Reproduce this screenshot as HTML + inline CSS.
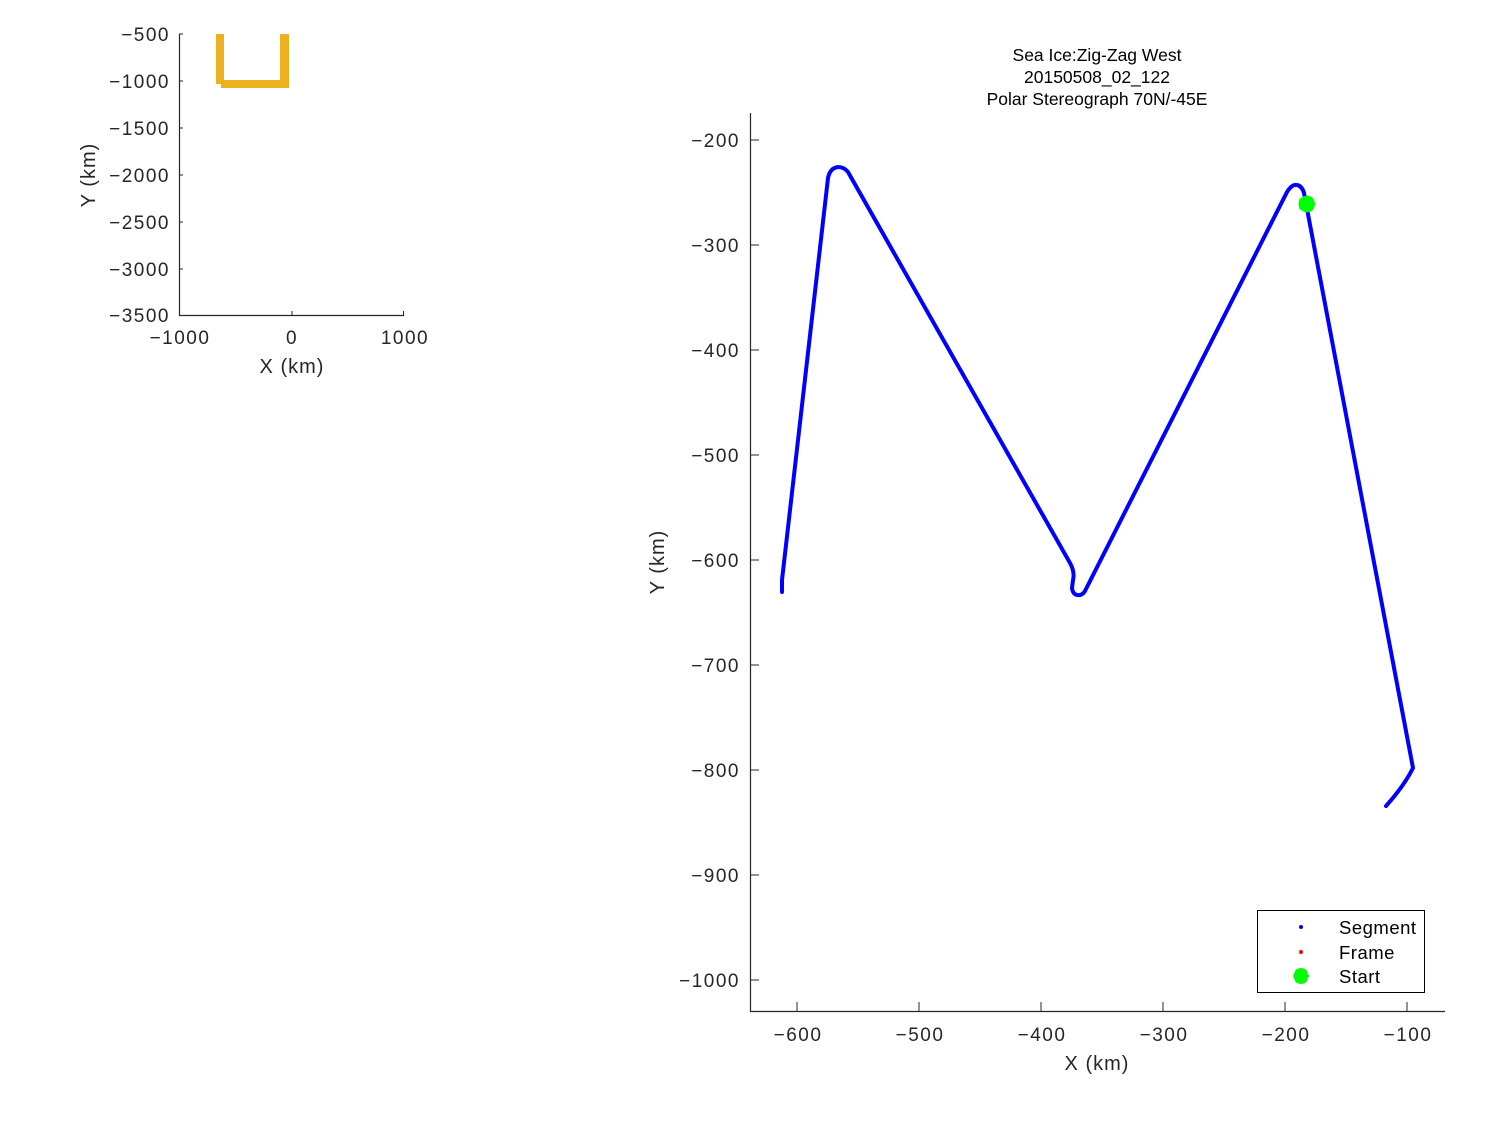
<!DOCTYPE html>
<html>
<head>
<meta charset="utf-8">
<style>
html,body{margin:0;padding:0;background:#fff;}
svg{display:block;}
text{font-family:"Liberation Sans","DejaVu Sans",sans-serif;fill:#262626;}
</style>
</head>
<body>
<svg width="1500" height="1125" viewBox="0 0 1500 1125" xmlns="http://www.w3.org/2000/svg">
<rect width="1500" height="1125" fill="#fff"/>

<!-- Small inset plot -->
<g>
  <rect x="216" y="34" width="8" height="50" fill="#EDB120"/>
  <rect x="221" y="80" width="68" height="8" fill="#EDB120"/>
  <rect x="280" y="34" width="9" height="54" fill="#EDB120"/>
  <path d="M179.5,34 L179.5,315.5 L404,315.5" fill="none" stroke="#262626" stroke-width="1.2"/>
  <g stroke="#262626" stroke-width="1">
    <line x1="292" y1="315" x2="292" y2="311"/>
    <line x1="403.5" y1="315" x2="403.5" y2="311"/>
    <line x1="179" y1="34" x2="183" y2="34"/>
    <line x1="179" y1="81" x2="183" y2="81"/>
    <line x1="179" y1="128" x2="183" y2="128"/>
    <line x1="179" y1="175" x2="183" y2="175"/>
    <line x1="179" y1="222" x2="183" y2="222"/>
    <line x1="179" y1="269" x2="183" y2="269"/>
  </g>
  <g font-size="19" text-anchor="end" letter-spacing="1.5">
    <text x="170" y="41">−500</text>
    <text x="170" y="88">−1000</text>
    <text x="170" y="135">−1500</text>
    <text x="170" y="182">−2000</text>
    <text x="170" y="229">−2500</text>
    <text x="170" y="276">−3000</text>
    <text x="170" y="322">−3500</text>
  </g>
  <g font-size="19" text-anchor="middle" letter-spacing="1.5">
    <text x="180" y="344">−1000</text>
    <text x="292" y="344">0</text>
    <text x="405" y="344">1000</text>
  </g>
  <text x="292" y="373" font-size="20" text-anchor="middle" letter-spacing="1">X (km)</text>
  <text transform="translate(95,175) rotate(-90)" font-size="20" text-anchor="middle" letter-spacing="1">Y (km)</text>
</g>

<!-- Main plot -->
<g>
  <path d="M750.5,113 L750.5,1011.5 L1445,1011.5" fill="none" stroke="#262626" stroke-width="1.2"/>
  <g stroke="#262626" stroke-width="1">
    <line x1="797" y1="1011" x2="797" y2="1002"/>
    <line x1="919" y1="1011" x2="919" y2="1002"/>
    <line x1="1041" y1="1011" x2="1041" y2="1002"/>
    <line x1="1163" y1="1011" x2="1163" y2="1002"/>
    <line x1="1285" y1="1011" x2="1285" y2="1002"/>
    <line x1="1407" y1="1011" x2="1407" y2="1002"/>
    <line x1="750" y1="140" x2="759" y2="140"/>
    <line x1="750" y1="245" x2="759" y2="245"/>
    <line x1="750" y1="350" x2="759" y2="350"/>
    <line x1="750" y1="455" x2="759" y2="455"/>
    <line x1="750" y1="560" x2="759" y2="560"/>
    <line x1="750" y1="665" x2="759" y2="665"/>
    <line x1="750" y1="770" x2="759" y2="770"/>
    <line x1="750" y1="875" x2="759" y2="875"/>
    <line x1="750" y1="980" x2="759" y2="980"/>
  </g>
  <g font-size="19" text-anchor="end" letter-spacing="1.5">
    <text x="740" y="147">−200</text>
    <text x="740" y="252">−300</text>
    <text x="740" y="357">−400</text>
    <text x="740" y="462">−500</text>
    <text x="740" y="567">−600</text>
    <text x="740" y="672">−700</text>
    <text x="740" y="777">−800</text>
    <text x="740" y="882">−900</text>
    <text x="740" y="987">−1000</text>
  </g>
  <g font-size="19" text-anchor="middle" letter-spacing="1.5">
    <text x="798" y="1041">−600</text>
    <text x="920" y="1041">−500</text>
    <text x="1042" y="1041">−400</text>
    <text x="1164" y="1041">−300</text>
    <text x="1286" y="1041">−200</text>
    <text x="1408" y="1041">−100</text>
  </g>
  <text x="1097" y="1070" font-size="20" text-anchor="middle" letter-spacing="1">X (km)</text>
  <text transform="translate(664,562) rotate(-90)" font-size="20" text-anchor="middle" letter-spacing="1">Y (km)</text>

  <g font-size="17.5" text-anchor="middle">
    <text x="1097" y="61" style="fill:#000">Sea Ice:Zig-Zag West</text>
    <text x="1097" y="83" style="fill:#000">20150508_02_122</text>
    <text x="1097" y="105" style="fill:#000">Polar Stereograph 70N/-45E</text>
  </g>

  <!-- track -->
  <path d="M782,592 L782,580 L828,178 Q830,168 838,167 Q844,167 848,172 L1070,563 Q1075,572 1073,580 L1072,588 Q1073,596 1080,595 Q1084,594 1086,589 L1287,192 Q1292,184 1297,185 Q1302,186 1304,193 L1413,768 Q1404,786 1386,806"
        fill="none" stroke="#0000FF" stroke-width="4" stroke-linejoin="round" stroke-linecap="round"/>

  <!-- start marker -->
  <g fill="#00FF00">
    <circle cx="1307" cy="204" r="7"/>
    <polygon points="1315.5,204 1313.5,208.7 1313,210 1310.3,211.8 1307,212.5 1303.7,211.8 1301,210 1299.3,208.7 1298.5,204 1299.3,199.3 1301,198 1303.7,196.2 1307,195.5 1310.3,196.2 1313,198 1313.5,199.3"/>
  </g>

  <!-- legend -->
  <rect x="1257.5" y="910.5" width="167" height="82" fill="#fff" stroke="#000" stroke-width="1"/>
  <circle cx="1301" cy="927" r="2" fill="#0000FF"/>
  <circle cx="1301" cy="952" r="2" fill="#FF0000"/>
  <g fill="#00FF00">
    <circle cx="1301" cy="976" r="7"/>
    <polygon points="1309,976 1307,980.5 1306.5,982 1304,983.5 1301,984 1298,983.5 1295.5,982 1295,980.5 1293,976 1295,971.5 1295.5,970 1298,968.5 1301,968 1304,968.5 1306.5,970 1307,971.5"/>
  </g>
  <g font-size="18.5" letter-spacing="0.5">
    <text x="1339" y="934" style="fill:#000">Segment</text>
    <text x="1339" y="959" style="fill:#000">Frame</text>
    <text x="1339" y="983" style="fill:#000">Start</text>
  </g>
</g>
</svg>
</body>
</html>
